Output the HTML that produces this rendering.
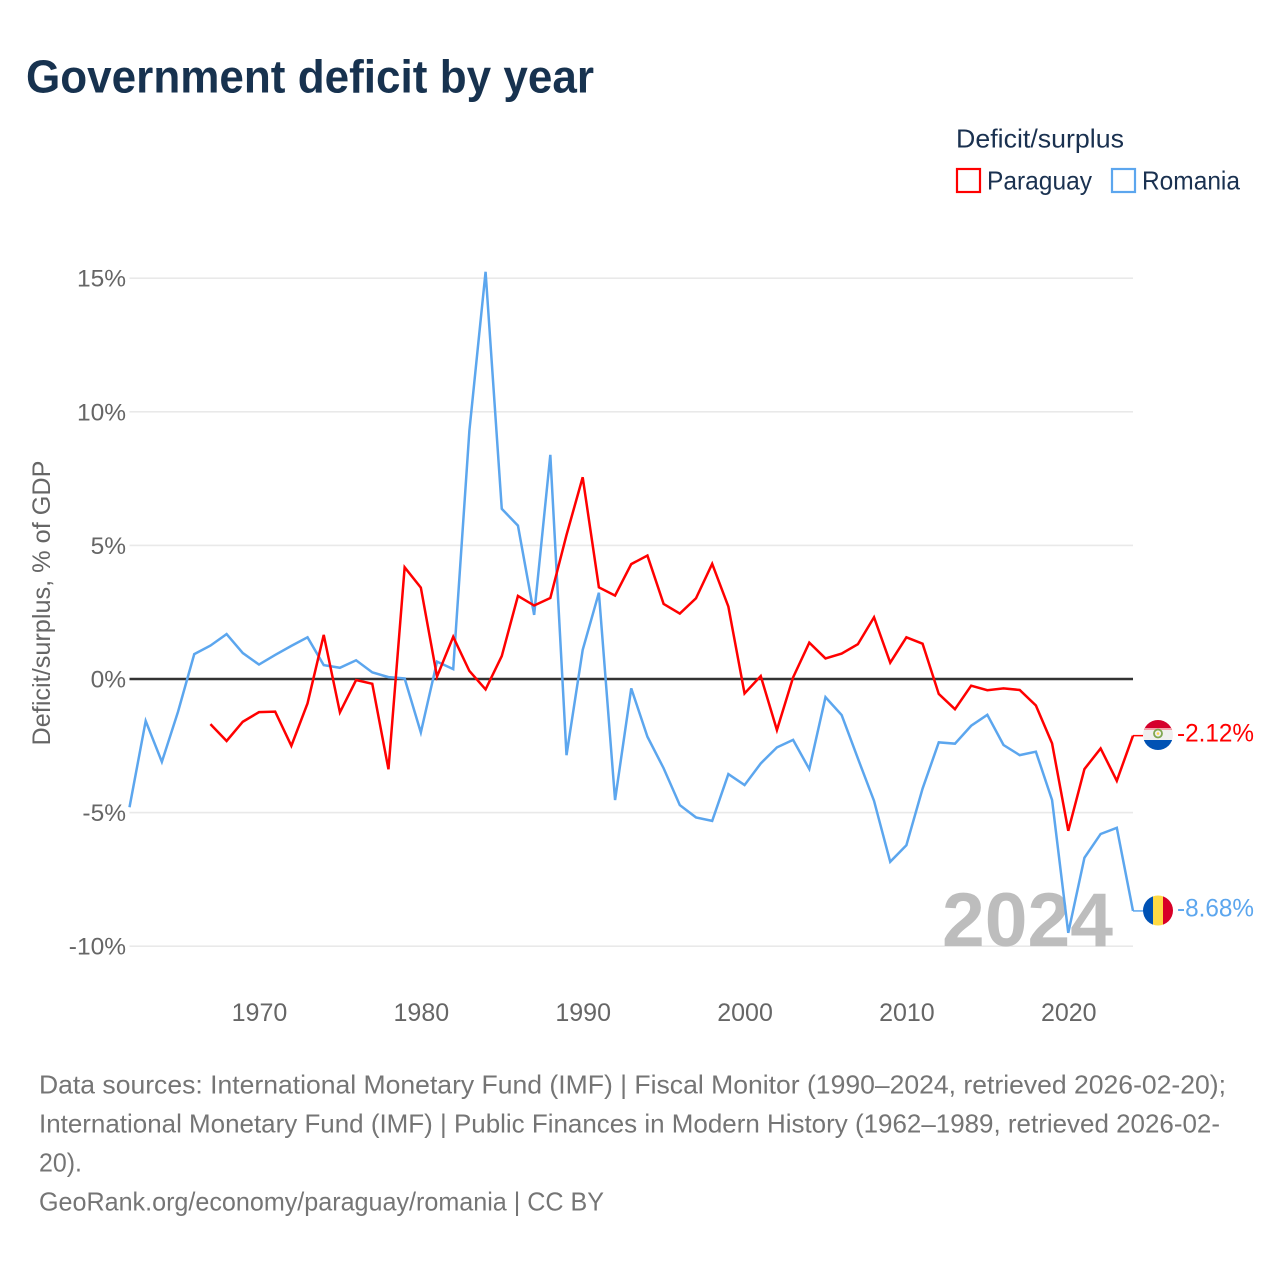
<!DOCTYPE html>
<html lang="en">
<head>
<meta charset="utf-8">
<title>Government deficit by year</title>
<style>
html,body{margin:0;padding:0;background:#fff;width:1280px;height:1280px;overflow:hidden}
svg{display:block;font-family:"Liberation Sans",sans-serif}
</style>
</head>
<body>
<svg id="chart" xmlns="http://www.w3.org/2000/svg" width="1280" height="1280" viewBox="0 0 1280 1280">
  <defs>
    <clipPath id="flag-clip-py"><circle cx="1158" cy="735" r="15"/></clipPath>
    <clipPath id="flag-clip-ro"><circle cx="1158" cy="910.5" r="15"/></clipPath>
  </defs>
  <rect width="1280" height="1280" fill="#fff"/>
  <text x="26" y="92.5" font-size="46" font-weight="700" fill="#17324f" textLength="568" lengthAdjust="spacingAndGlyphs">Government deficit by year</text>

  <g>
    <text x="956" y="147.5" font-size="26" fill="#1a3150" textLength="168" lengthAdjust="spacingAndGlyphs">Deficit/surplus</text>
    <rect x="957" y="169" width="23" height="23" fill="none" stroke="#ff0000" stroke-width="2.2"/>
    <text x="987" y="189.5" font-size="26" fill="#1a3150" textLength="105" lengthAdjust="spacingAndGlyphs">Paraguay</text>
    <rect x="1112" y="169" width="23" height="23" fill="none" stroke="#5ca6ee" stroke-width="2.2"/>
    <text x="1142" y="189.5" font-size="26" fill="#1a3150" textLength="98" lengthAdjust="spacingAndGlyphs">Romania</text>
  </g>

  <g id="grid"></g>
  <g id="yticks"></g>
  <g id="xticks"></g>
  <text transform="translate(50,603) rotate(-90)" text-anchor="middle" font-size="25" fill="#666" textLength="285" lengthAdjust="spacingAndGlyphs">Deficit/surplus, % of GDP</text>

  <text x="942" y="946" font-size="76" font-weight="700" fill="#bdbdbd" textLength="171" lengthAdjust="spacingAndGlyphs">2024</text>

  <g id="series"></g>

  <g clip-path="url(#flag-clip-py)">
    <rect x="1143" y="720" width="30" height="10" fill="#d5002c"/>
    <rect x="1143" y="728" width="30" height="2" fill="#f4a0a8"/>
    <rect x="1143" y="730" width="30" height="10.5" fill="#efefef"/>
    <rect x="1143" y="740" width="30" height="10" fill="#0052b4"/>
    <circle cx="1158" cy="733.5" r="4" fill="none" stroke="#7ea650" stroke-width="1.8"/>
    <circle cx="1158" cy="733.5" r="1.3" fill="#ffd648"/>
  </g>
  <g clip-path="url(#flag-clip-ro)">
    <rect x="1143" y="895" width="10" height="31" fill="#0052b4"/>
    <rect x="1153" y="895" width="10" height="31" fill="#ffda44"/>
    <rect x="1163" y="895" width="10" height="31" fill="#d80027"/>
  </g>
  <text id="label-py" x="1177" y="741.5" font-size="25" fill="#ff0000" textLength="77" lengthAdjust="spacingAndGlyphs"></text>
  <text id="label-ro" x="1177" y="916.5" font-size="25" fill="#5ca6ee" textLength="77" lengthAdjust="spacingAndGlyphs"></text>

  <g font-size="26" fill="#757575">
    <text x="39" y="1093.5" textLength="1187" lengthAdjust="spacingAndGlyphs">Data sources: International Monetary Fund (IMF) | Fiscal Monitor (1990–2024, retrieved 2026-02-20);</text>
    <text x="39" y="1132.5" textLength="1181" lengthAdjust="spacingAndGlyphs">International Monetary Fund (IMF) | Public Finances in Modern History (1962–1989, retrieved 2026-02-</text>
    <text x="39" y="1171.5" textLength="43" lengthAdjust="spacingAndGlyphs">20).</text>
    <text x="39" y="1210.5" textLength="565" lengthAdjust="spacingAndGlyphs">GeoRank.org/economy/paraguay/romania | CC BY</text>
  </g>
</svg>
<script>
var romaniaYears = [1962,1963,1964,1965,1966,1967,1968,1969,1970,1971,1972,1973,1974,1975,1976,1977,1978,1979,1980,1981,1982,1983,1984,1985,1986,1987,1988,1989,1990,1991,1992,1993,1994,1995,1996,1997,1998,1999,2000,2001,2002,2003,2004,2005,2006,2007,2008,2009,2010,2011,2012,2013,2014,2015,2016,2017,2018,2019,2020,2021,2022,2023,2024];
var romaniaValues = [-4.8,-1.57,-3.1,-1.22,0.93,1.25,1.68,0.97,0.54,0.9,1.24,1.56,0.52,0.42,0.7,0.25,0.07,0.02,-2.0,0.65,0.37,9.3,15.24,6.37,5.74,2.4,8.39,-2.85,1.09,3.23,-4.53,-0.35,-2.16,-3.34,-4.72,-5.18,-5.31,-3.56,-3.97,-3.16,-2.56,-2.28,-3.37,-0.68,-1.35,-2.97,-4.56,-6.84,-6.22,-4.1,-2.37,-2.42,-1.75,-1.34,-2.47,-2.85,-2.72,-4.53,-9.5,-6.69,-5.8,-5.57,-8.68];
var paraguayYears = [1967,1968,1969,1970,1971,1972,1973,1974,1975,1976,1977,1978,1979,1980,1981,1982,1983,1984,1985,1986,1987,1988,1989,1990,1991,1992,1993,1994,1995,1996,1997,1998,1999,2000,2001,2002,2003,2004,2005,2006,2007,2008,2009,2010,2011,2012,2013,2014,2015,2016,2017,2018,2019,2020,2021,2022,2023,2024];
var paraguayValues = [-1.69,-2.32,-1.6,-1.24,-1.22,-2.5,-0.91,1.65,-1.25,-0.04,-0.18,-3.38,4.18,3.42,0.09,1.58,0.3,-0.39,0.86,3.11,2.75,3.03,5.39,7.55,3.43,3.12,4.3,4.62,2.81,2.45,3.02,4.31,2.71,-0.54,0.11,-1.91,0.06,1.36,0.77,0.95,1.3,2.31,0.61,1.56,1.32,-0.56,-1.13,-0.25,-0.42,-0.35,-0.41,-0.99,-2.41,-5.68,-3.37,-2.6,-3.81,-2.12];
var yTickValues = [15,10,5,0,-5,-10];
var xTickValues = [1970,1980,1990,2000,2010,2020];

var SVGNS = 'http://www.w3.org/2000/svg';
function xScale(year){ return 129.5 + (year - 1962) * (1133 - 129.5) / 62; }
function yScale(v){ return 679 - v * 26.72; }
function make(tag, parent){
  var el = document.createElementNS(SVGNS, tag);
  parent.appendChild(el);
  return el;
}
function pointsFor(years, values){
  return years.map(function(y, i){
    return xScale(y).toFixed(2) + ',' + yScale(values[i]).toFixed(2);
  }).join(' ');
}

var grid = document.getElementById('grid');
var yticks = document.getElementById('yticks');
var xticks = document.getElementById('xticks');
var series = document.getElementById('series');

yTickValues.forEach(function(v){
  if (v === 0) return;
  var line = make('line', grid);
  
  
  line.setAttribute('x1', xScale(1962));
  line.setAttribute('x2', xScale(2024));
  line.setAttribute('y1', yScale(v));
  line.setAttribute('y2', yScale(v));
  line.setAttribute('stroke', '#e9e9e9');
  line.setAttribute('stroke-width', '1.6');
});
yTickValues.forEach(function(v){
  var t = make('text', yticks);
  
  
  t.setAttribute('x', 126);
  t.setAttribute('y', yScale(v) + 8.5);
  t.setAttribute('text-anchor', 'end');
  t.setAttribute('font-size', '24.5');
  t.setAttribute('fill', '#666');
  t.textContent = v + '%';
});
xTickValues.forEach(function(y){
  var t = make('text', xticks);
  
  
  t.setAttribute('x', xScale(y) + 0.5);
  t.setAttribute('y', 1021);
  t.setAttribute('text-anchor', 'middle');
  t.setAttribute('font-size', '25');
  t.setAttribute('fill', '#666');
  t.textContent = y;
});

var zero = make('line', series);


zero.setAttribute('x1', xScale(1962));
zero.setAttribute('x2', xScale(2024));
zero.setAttribute('y1', yScale(0));
zero.setAttribute('y2', yScale(0));
zero.setAttribute('stroke', '#333');
zero.setAttribute('stroke-width', '2.5');

var roLine = make('polyline', series);


roLine.setAttribute('points', pointsFor(romaniaYears, romaniaValues));
roLine.setAttribute('fill', 'none');
roLine.setAttribute('stroke', '#5ca6ee');
roLine.setAttribute('stroke-width', '2.5');
roLine.setAttribute('stroke-linejoin', 'miter');

var pyLine = make('polyline', series);


pyLine.setAttribute('points', pointsFor(paraguayYears, paraguayValues));
pyLine.setAttribute('fill', 'none');
pyLine.setAttribute('stroke', '#ff0000');
pyLine.setAttribute('stroke-width', '2.5');
pyLine.setAttribute('stroke-linejoin', 'miter');

var lastRo = romaniaValues[romaniaValues.length - 1];
var lastPy = paraguayValues[paraguayValues.length - 1];

var connRo = make('line', series);


connRo.setAttribute('x1', xScale(2024));
connRo.setAttribute('x2', xScale(2024) + 10);
connRo.setAttribute('y1', yScale(lastRo));
connRo.setAttribute('y2', yScale(lastRo));
connRo.setAttribute('stroke', '#5ca6ee');
connRo.setAttribute('stroke-width', '1.5');

var connPy = make('line', series);


connPy.setAttribute('x1', xScale(2024));
connPy.setAttribute('x2', xScale(2024) + 10);
connPy.setAttribute('y1', yScale(lastPy));
connPy.setAttribute('y2', yScale(lastPy));
connPy.setAttribute('stroke', '#ff0000');
connPy.setAttribute('stroke-width', '1.5');

document.getElementById('label-py').textContent = lastPy.toFixed(2) + '%';
document.getElementById('label-ro').textContent = lastRo.toFixed(2) + '%';
</script>
</body>
</html>
